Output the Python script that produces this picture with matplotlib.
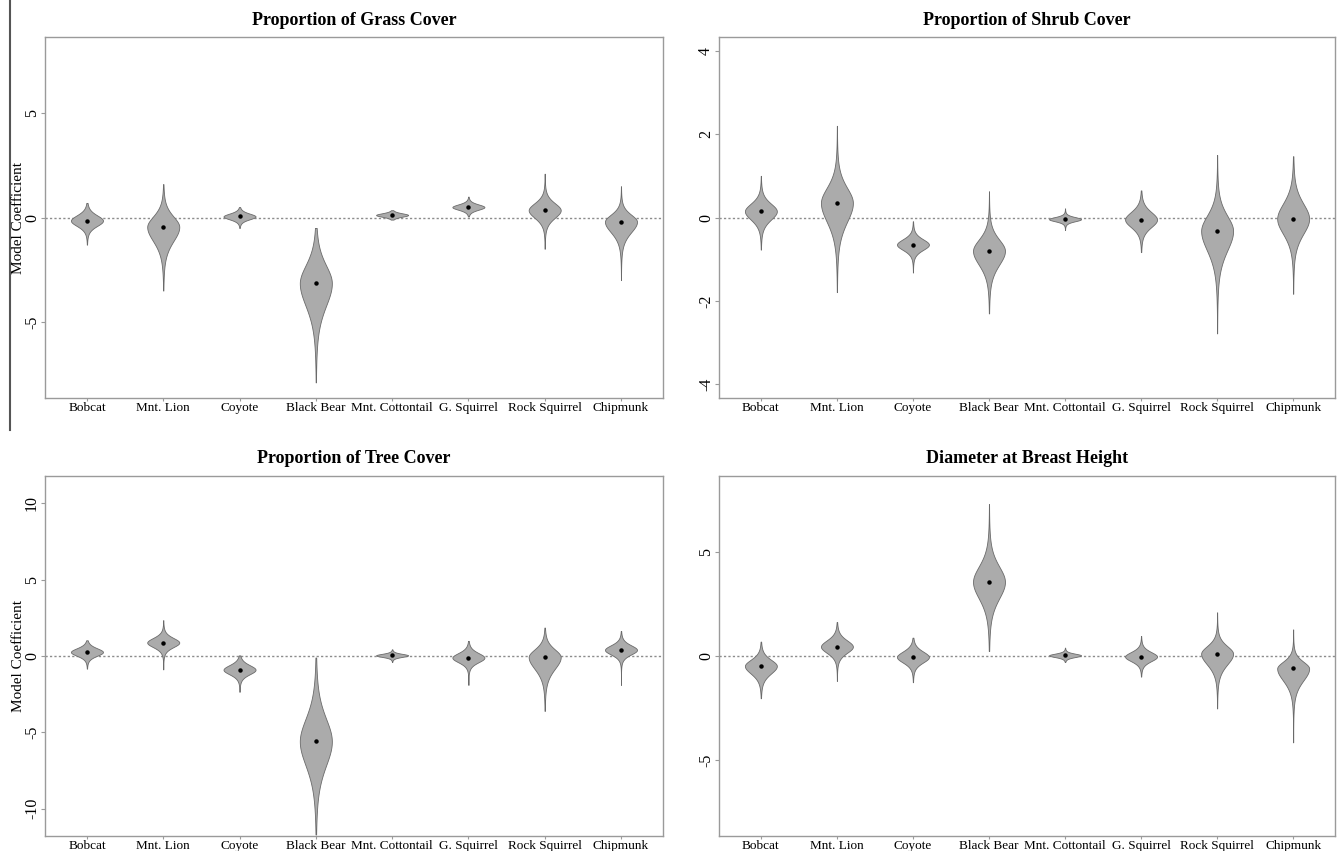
import numpy as np
import matplotlib
matplotlib.use("Agg")
import matplotlib.pyplot as plt
from matplotlib.lines import Line2D

plt.rcParams['font.family'] = ['Liberation Serif', 'DejaVu Serif']

species = ["Bobcat", "Mnt. Lion", "Coyote", "Black Bear", "Mnt. Cottontail",
           "G. Squirrel", "Rock Squirrel", "Chipmunk"]

# posterior summaries:
# median (dot), lower / upper tail end, spread of the body below / above the median
grass_med = [-0.15, -0.45, 0.05, -3.15, 0.12, 0.5, 0.35, -0.2]
grass_lo = [-1.3, -3.5, -0.5, -7.9, -0.1, 0.05, -1.5, -3.0]
grass_hi = [0.7, 1.6, 0.5, -0.5, 0.35, 1.0, 2.1, 1.5]
grass_sd_lo = [0.28, 0.75, 0.15, 1.2, 0.09, 0.14, 0.4, 0.56]
grass_sd_hi = [0.28, 0.55, 0.15, 0.95, 0.09, 0.14, 0.37, 0.37]

shrub_med = [0.15, 0.35, -0.65, -0.8, -0.04, -0.05, -0.32, -0.03]
shrub_lo = [-0.77, -1.79, -1.32, -2.3, -0.3, -0.83, -2.78, -1.83]
shrub_hi = [1.0, 2.2, -0.09, 0.63, 0.22, 0.65, 1.5, 1.47]
shrub_sd_lo = [0.22, 0.5, 0.14, 0.37, 0.055, 0.2, 0.52, 0.4]
shrub_sd_hi = [0.2, 0.4, 0.14, 0.3, 0.055, 0.2, 0.4, 0.4]

tree_med = [0.26, 0.88, -0.9, -5.6, 0.04, -0.11, -0.07, 0.4]
tree_lo = [-0.83, -0.88, -2.35, -11.7, -0.4, -1.9, -3.6, -1.9]
tree_hi = [1.03, 2.35, 0.04, -0.1, 0.44, 0.99, 1.86, 1.64]
tree_sd_lo = [0.27, 0.33, 0.33, 1.75, 0.11, 0.33, 0.85, 0.33]
tree_sd_hi = [0.27, 0.33, 0.33, 1.65, 0.11, 0.33, 0.55, 0.33]

dbh_med = [-0.48, 0.45, -0.05, 3.56, 0.03, -0.03, 0.11, -0.6]
dbh_lo = [-2.03, -1.2, -1.26, 0.24, -0.29, -0.99, -2.52, -4.15]
dbh_hi = [0.69, 1.63, 0.88, 7.3, 0.4, 0.96, 2.1, 1.28]
dbh_sd_lo = [0.4, 0.33, 0.29, 0.88, 0.09, 0.24, 0.57, 0.64]
dbh_sd_hi = [0.33, 0.33, 0.29, 0.82, 0.09, 0.24, 0.4, 0.36]

panels = [
    ("Proportion of Grass Cover", grass_med, grass_lo, grass_hi, grass_sd_lo, grass_sd_hi, 8.65, [-5, 0, 5]),
    ("Proportion of Shrub Cover", shrub_med, shrub_lo, shrub_hi, shrub_sd_lo, shrub_sd_hi, 4.33, [-4, -2, 0, 2, 4]),
    ("Proportion of Tree Cover", tree_med, tree_lo, tree_hi, tree_sd_lo, tree_sd_hi, 11.8, [-10, -5, 0, 5, 10]),
    ("Diameter at Breast Height", dbh_med, dbh_lo, dbh_hi, dbh_sd_lo, dbh_sd_hi, 8.65, [-5, 0, 5]),
]

# axes boxes in figure fraction (left, bottom, width, height)
boxes = [
    (0.0336, 0.5323, 0.4615, 0.4242),
    (0.5370, 0.5323, 0.4600, 0.4242),
    (0.0336, 0.0176, 0.4615, 0.4231),
    (0.5370, 0.0176, 0.4600, 0.4231),
]

half_w = 0.21
frame_col = "#9a9a9a"

fig = plt.figure(figsize=(13.39, 8.51), dpi=100)

for k, (title, med, lo, hi, sdl, sdh, ylim, yticks) in enumerate(panels):
    ax = fig.add_axes(boxes[k])
    ax.axhline(0, color="#8c8c8c", lw=1.0, ls=(0, (1.6, 1.6)), zorder=1)
    for i in range(len(species)):
        x0 = i + 1
        y = np.linspace(lo[i], hi[i], 500)
        s = np.where(y < med[i], sdl[i], sdh[i])
        z = (y - med[i]) / s
        w = half_w * (1 + z ** 2 / 6.0) ** -3.5
        ax.fill_betweenx(y, x0 - w, x0 + w, facecolor="#ababab",
                         edgecolor="#6a6a6a", lw=0.6, zorder=2)
        ax.plot([x0], [med[i]], marker="o", ms=2.2, color="black", zorder=3)
    ax.set_xlim(0.45, 8.55)
    ax.set_ylim(-ylim, ylim)
    ax.set_xticks(range(1, len(species) + 1))
    ax.set_xticklabels(species, fontsize=9.5)
    ax.set_yticks(yticks)
    ax.set_yticklabels([str(t) for t in yticks], rotation=90, va="center", fontsize=11.5)
    ax.tick_params(axis="x", length=2, color=frame_col, pad=1)
    ax.tick_params(axis="y", length=3, color=frame_col, pad=0.5)
    for sp in ax.spines.values():
        sp.set_color(frame_col)
        sp.set_linewidth(1.0)
    ax.set_title(title, fontsize=13, fontweight="bold", pad=9)
    if k % 2 == 0:
        b = boxes[k]
        fig.text(0.0135, b[1] + b[3] / 2, "Model Coefficient", rotation=90,
                 ha="center", va="center", fontsize=11)

# stray rule along the left edge of the upper panel
fig.add_artist(Line2D([0.0075, 0.0075], [0.495, 1.0], color="#555555", lw=1.5))

fig.savefig("out.png", dpi=100)
